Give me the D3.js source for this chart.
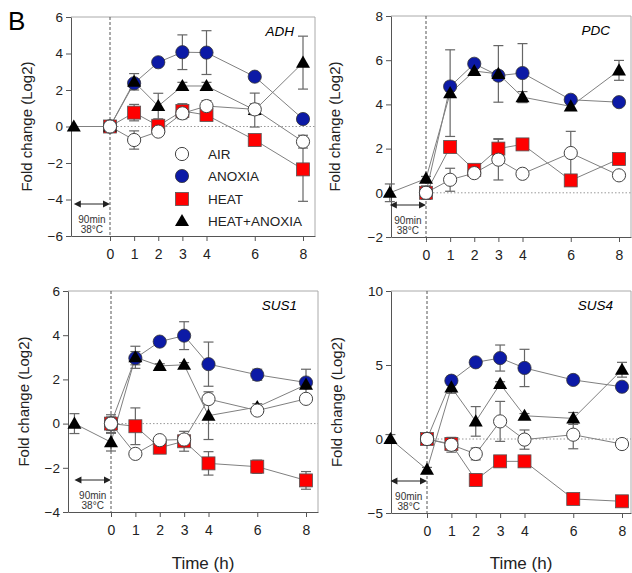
<!DOCTYPE html>
<html>
<head>
<meta charset="utf-8">
<script src="https://cdn.jsdelivr.net/npm/d3@7"></script>
<style>
  body { margin: 0; background: #fff; }
  svg { display: block; font-family: "Liberation Sans", Arial, sans-serif; }
  .axis path, .axis line { stroke: #555; }
  .axis text { font-size: 13.5px; fill: #222; }
</style>
</head>
<body>
<svg id="chart" width="632" height="573"></svg>
<script>
// time points (h); -1.5 is the pre-treatment point before the 90 min heat step
var timePoints = [-1.5, 0, 1, 2, 3, 4, 6, 8];
var xTicks = [0, 1, 2, 3, 4, 6, 8];
var seriesNames = ["AIR", "ANOXIA", "HEAT", "HEAT+ANOXIA"];

// ADH
var adhAir = [null, 0, -0.74, -0.28, 0.72, 1.12, 0.94, -0.83];
var adhAirErr = [0, 0, 0.5, 0.15, 0.3, 0.3, 0.3, 0.35];
var adhAnoxia = [null, 0, 2.37, 3.52, 4.07, 4.05, 2.73, 0.41];
var adhAnoxiaErr = [0, 0, 0.2, 0.15, 0.95, 1.2, 0.15, 0.2];
var adhHeat = [null, 0, 0.76, 0.04, 0.85, 0.63, -0.74, -2.35];
var adhHeatErr = [0, 0, 0.45, 0.2, 0.4, 0.2, 0.3, 1.75];
var adhHeatAnoxia = [0, 0, 2.45, 1.12, 2.22, 2.22, 0.9, 3.5];
var adhHeatAnoxiaErr = [0, 0, 0.45, 0.7, 0.2, 0.2, 0.93, 1.45];
var adhTicks = [-6, -4, -2, 0, 2, 4, 6];

// PDC
var pdcAir = [null, 0, 0.59, 0.89, 1.5, 0.86, 1.8, 0.79];
var pdcAirErr = [0, 0.3, 0.52, 0.1, 0.92, 0.1, 0.98, 0.1];
var pdcAnoxia = [null, 0, 4.81, 5.84, 5.3, 5.42, 4.21, 4.1];
var pdcAnoxiaErr = [0, 0, 0.2, 0.15, 0.2, 1.33, 0.15, 0.1];
var pdcHeat = [null, 0, 2.07, 1.04, 2.0, 2.19, 0.56, 1.53];
var pdcHeatErr = [0, 0.3, 0.15, 0.1, 0.45, 0.1, 0.1, 0.1];
var pdcHeatAnoxia = [0, 0.64, 4.51, 5.51, 5.38, 4.33, 3.91, 5.54];
var pdcHeatAnoxiaErr = [0.4, 0.1, 1.96, 0.15, 1.28, 0.25, 0.15, 0.45];
var pdcTicks = [-2, 0, 2, 4, 6, 8];

// SUS1
var sus1Air = [null, 0, -1.37, -0.75, -0.72, 1.11, 0.59, 1.12];
var sus1AirErr = [0, 0.4, 0.1, 0.1, 0.2, 0.2, 0.1, 0.1];
var sus1Anoxia = [null, 0, 2.96, 3.71, 3.98, 2.69, 2.21, 1.86];
var sus1AnoxiaErr = [0, 0, 0.3, 0.1, 0.63, 1.0, 0.25, 0.6];
var sus1Heat = [null, 0, -0.12, -1.09, -0.8, -1.8, -1.95, -2.57];
var sus1HeatErr = [0, 0.3, 0.83, 0.15, 0.45, 0.53, 0.3, 0.4];
var sus1HeatAnoxia = [0, -0.84, 3.0, 2.61, 2.66, 0.36, 0.75, 1.76];
var sus1HeatAnoxiaErr = [0.45, 0.4, 0.5, 0.1, 0.1, 1.08, 0.15, 0.15];
var sus1Ticks = [-4, -2, 0, 2, 4, 6];

// SUS4
var sus4Air = [null, 0, -0.39, -1.01, 1.19, -0.04, 0.29, -0.34];
var sus4AirErr = [0, 0, 0.5, 0.4, 1.35, 0.65, 0.95, 0.1];
var sus4Anoxia = [null, 0, 3.94, 5.18, 5.47, 4.8, 3.99, 3.53];
var sus4AnoxiaErr = [0, 0, 0.3, 0.15, 0.88, 1.26, 0.2, 0.2];
var sus4Heat = [null, 0, -0.34, -2.77, -1.51, -1.51, -4.05, -4.21];
var sus4HeatErr = [0, 0, 0.2, 0.4, 0.3, 0.2, 0.15, 0.15];
var sus4HeatAnoxia = [0, -2.07, 3.49, 1.19, 3.72, 1.57, 1.39, 4.68];
var sus4HeatAnoxiaErr = [0.3, 0.15, 0.4, 1.0, 0.15, 0.15, 0.4, 0.5];
var sus4Ticks = [-5, 0, 5, 10];

var svg = d3.select("#chart");

svg.append("text").attr("x", 8).attr("y", 30)
	.style("font-size", "26px").text("B");

// panel layout: axisX = left axis, x0/x8 = pixel of t=0 / t=8
var panels = [
	{ gene: "ADH", vals: [adhAir, adhAnoxia, adhHeat, adhHeatAnoxia],
	  errs: [adhAirErr, adhAnoxiaErr, adhHeatErr, adhHeatAnoxiaErr], ticks: adhTicks,
	  axisX: 71, x0: 110, x8: 303, right: 315, top: 17, bottom: 236, labelX: 27, legend: true, timeLabel: false },
	{ gene: "PDC", vals: [pdcAir, pdcAnoxia, pdcHeat, pdcHeatAnoxia],
	  errs: [pdcAirErr, pdcAnoxiaErr, pdcHeatErr, pdcHeatAnoxiaErr], ticks: pdcTicks,
	  axisX: 391, x0: 426, x8: 619, right: 631, top: 16, bottom: 237, labelX: 335, legend: false, timeLabel: false },
	{ gene: "SUS1", vals: [sus1Air, sus1Anoxia, sus1Heat, sus1HeatAnoxia],
	  errs: [sus1AirErr, sus1AnoxiaErr, sus1HeatErr, sus1HeatAnoxiaErr], ticks: sus1Ticks,
	  axisX: 68, x0: 111, x8: 306, right: 318, top: 291, bottom: 512, labelX: 24, legend: false, timeLabel: true },
	{ gene: "SUS4", vals: [sus4Air, sus4Anoxia, sus4Heat, sus4HeatAnoxia],
	  errs: [sus4AirErr, sus4AnoxiaErr, sus4HeatErr, sus4HeatAnoxiaErr], ticks: sus4Ticks,
	  axisX: 391, x0: 427, x8: 622, right: 631, top: 291, bottom: 513, labelX: 337, legend: false, timeLabel: true }
];

// marker drawing, order matters: heat, anoxia, heat+anoxia, air on top
var drawOrder = [2, 1, 3, 0];

function drawMarker(g, idx, cx, cy) {
	if (idx == 0) {
		g.append("circle").attr("cx", cx).attr("cy", cy).attr("r", 6.6)
			.attr("fill", "#fff").attr("stroke", "#444").attr("stroke-width", 1);
	} else if (idx == 1) {
		g.append("circle").attr("cx", cx).attr("cy", cy).attr("r", 6.6)
			.attr("fill", "#0c1aa6").attr("stroke", "#333").attr("stroke-width", 0.8);
	} else if (idx == 2) {
		g.append("rect").attr("x", cx - 6.5).attr("y", cy - 6.5).attr("width", 13).attr("height", 13)
			.attr("fill", "#f00").attr("stroke", "#555").attr("stroke-width", 0.8);
	} else {
		g.append("path").attr("transform", "translate(" + cx + "," + (cy + 1) + ")")
			.attr("d", d3.symbol().type(d3.symbolTriangle).size(85))
			.attr("fill", "#000");
	}
}

panels.forEach(function(p) {
	var g = svg.append("g");
	var x = d3.scaleLinear().domain([0, 8]).range([p.x0, p.x8]);
	x.domain([x.invert(p.axisX), x.invert(p.right)]).range([p.axisX, p.right]);
	var ext = d3.extent(p.ticks);
	var y = d3.scaleLinear().domain(ext).range([p.bottom, p.top]);

	// frame top and right
	g.append("path")
		.attr("d", "M" + p.axisX + "," + p.top + "H" + p.right + "V" + p.bottom)
		.attr("fill", "none").attr("stroke", "#aaa").attr("stroke-width", 1);

	// zero line and treatment line
	g.append("line").attr("x1", x(0)).attr("x2", p.right).attr("y1", y(0)).attr("y2", y(0))
		.attr("stroke", "#999").attr("stroke-dasharray", "1.5,2");
	g.append("line").attr("x1", x(0)).attr("x2", x(0)).attr("y1", p.top).attr("y2", p.bottom)
		.attr("stroke", "#555").attr("stroke-dasharray", "3,2");

	// axes
	g.append("g").attr("class", "axis").attr("transform", "translate(" + p.axisX + ",0)")
		.call(d3.axisLeft(y).tickValues(p.ticks).tickSize(5).tickSizeOuter(0).tickPadding(3));
	g.append("g").attr("class", "axis").attr("transform", "translate(0," + p.bottom + ")")
		.call(d3.axisBottom(x).tickValues(xTicks).tickSize(5).tickSizeOuter(0).tickPadding(8)
			.tickFormat(d3.format("d")))
		.selectAll("text").style("font-size", "14px");

	// y axis title
	g.append("text")
		.attr("transform", "translate(" + p.labelX + "," + ((p.top + p.bottom) / 2) + ") rotate(-90)")
		.attr("text-anchor", "middle").attr("dy", "0.35em")
		.style("font-size", "15px").style("fill", "#222")
		.text("Fold change (Log2)");

	// gene name
	g.append("text").attr("x", x(8) - 9).attr("y", p.top + 19)
		.attr("text-anchor", "end").style("font-size", "13.5px").style("font-style", "italic")
		.text(p.gene);

	// 90 min heat arrow
	var ay = p.bottom - 32;
	g.append("line").attr("x1", x(-1.5) + 6).attr("x2", x(0) - 6).attr("y1", ay).attr("y2", ay)
		.attr("stroke", "#222").attr("stroke-width", 1);
	g.append("path").attr("d", "M" + x(-1.5) + "," + ay + "l7,-3.5v7z").attr("fill", "#222");
	g.append("path").attr("d", "M" + x(0) + "," + ay + "l-7,-3.5v7z").attr("fill", "#222");
	g.append("text").attr("x", (x(-1.5) + x(0)) / 2).attr("y", p.bottom - 13)
		.attr("text-anchor", "middle").style("font-size", "10px").style("fill", "#333").text("90min");
	g.append("text").attr("x", (x(-1.5) + x(0)) / 2).attr("y", p.bottom - 3)
		.attr("text-anchor", "middle").style("font-size", "10px").style("fill", "#333").text("38°C");

	// connecting lines
	var line = d3.line()
		.defined(function(d) { return d.v != null; })
		.x(function(d) { return x(d.t); })
		.y(function(d) { return y(d.v); });
	p.vals.forEach(function(vals) {
		var pts = timePoints.map(function(t, i) { return { t: t, v: vals[i] }; });
		g.append("path").datum(pts).attr("d", line)
			.attr("fill", "none").attr("stroke", "#808080").attr("stroke-width", 1);
	});

	// error bars
	p.vals.forEach(function(vals, s) {
		vals.forEach(function(v, i) {
			var e = p.errs[s][i];
			if (v == null || !e) return;
			var cx = x(timePoints[i]);
			var y1 = y(v - e), y2 = y(v + e);
			g.append("line").attr("x1", cx).attr("x2", cx).attr("y1", y1).attr("y2", y2)
				.attr("stroke", "#666").attr("stroke-width", 1.2);
			g.append("line").attr("x1", cx - 5).attr("x2", cx + 5).attr("y1", y1).attr("y2", y1)
				.attr("stroke", "#666").attr("stroke-width", 1.2);
			g.append("line").attr("x1", cx - 5).attr("x2", cx + 5).attr("y1", y2).attr("y2", y2)
				.attr("stroke", "#666").attr("stroke-width", 1.2);
		});
	});

	// markers
	drawOrder.forEach(function(s) {
		p.vals[s].forEach(function(v, i) {
			if (v == null) return;
			drawMarker(g, s, x(timePoints[i]), y(v));
		});
	});

	if (p.timeLabel) {
		g.append("text").attr("x", (p.axisX + p.right) / 2 + 10).attr("y", 569)
			.attr("text-anchor", "middle").style("font-size", "17px").style("fill", "#222")
			.text("Time (h)");
	}

	if (p.legend) {
		var ly = [154, 176, 199, 221];
		seriesNames.forEach(function(name, s) {
			drawMarker(g, s, 182, ly[s]);
			g.append("text").attr("x", 208).attr("y", ly[s]).attr("dy", "0.35em")
				.style("font-size", "13.5px").style("fill", "#222").text(name);
		});
	}
});
</script>
</body>
</html>
